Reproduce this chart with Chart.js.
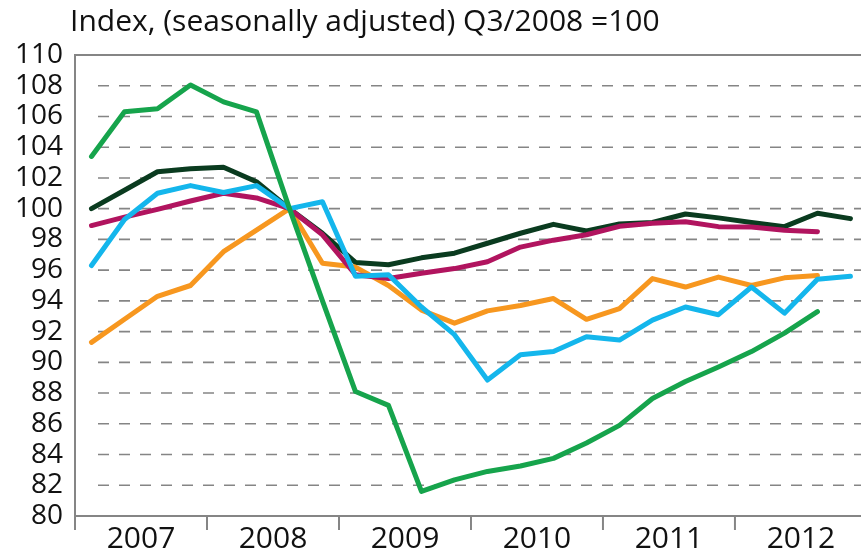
<!DOCTYPE html>
<html><head><meta charset="utf-8">
<script src="https://cdn.jsdelivr.net/npm/chart.js@4.4.1/dist/chart.umd.min.js"></script>
<style>html,body{margin:0;padding:0;background:#fff;overflow:hidden}#wrap{width:861px;height:555px;position:relative}</style>
</head><body><div id="wrap"><canvas id="c" width="861" height="555"></canvas></div>
<script>
const TITLE = 'Index, (seasonally adjusted) Q3/2008 =100';
const YEARS = ['2007', '2008', '2009', '2010', '2011', '2012'];
const QUARTERS = YEARS.flatMap(y => ['Q1', 'Q2', 'Q3', 'Q4'].map(q => y + q));
const Y_TICKS = [80, 82, 84, 86, 88, 90, 92, 94, 96, 98, 100, 102, 104, 106, 108, 110];

const darkGreen = [100.0, 101.2, 102.4, 102.6, 102.7, 101.75, 100.0, 98.4, 96.5, 96.35, 96.8, 97.1, 97.75, 98.4, 98.98, 98.55, 99.0, 99.1, 99.65, 99.4, 99.1, 98.83, 99.7, 99.35];
const magenta = [98.9, 99.45, 99.95, 100.5, 101.0, 100.7, 100.0, 98.3, 95.7, 95.45, 95.8, 96.1, 96.55, 97.5, 97.95, 98.3, 98.85, 99.05, 99.15, 98.83, 98.8, 98.6, 98.5, null];
const cyan = [96.3, 99.3, 101.0, 101.5, 101.05, 101.5, 100.0, 100.45, 95.6, 95.7, 93.6, 91.8, 88.85, 90.5, 90.7, 91.67, 91.45, 92.75, 93.6, 93.1, 94.9, 93.2, 95.4, 95.6];
const orange = [91.3, 92.8, 94.3, 95.0, 97.2, 98.6, 100.0, 96.45, 96.2, 95.0, 93.4, 92.55, 93.35, 93.7, 94.15, 92.8, 93.5, 95.45, 94.9, 95.55, 95.0, 95.5, 95.65, null];
const green = [103.4, 106.3, 106.5, 108.05, 106.95, 106.3, 100.0, 94.0, 88.1, 87.2, 81.6, 82.35, 82.9, 83.25, 83.75, 84.75, 85.9, 87.65, 88.75, 89.7, 90.7, 91.9, 93.3, null];

const yearCenters = YEARS.map(y => {
  const idx = QUARTERS.map((q, i) => q.startsWith(y) ? i : -1).filter(i => i >= 0);
  return (idx[0] + idx[idx.length - 1]) / 2;
});
const yearBounds = YEARS.map(y => QUARTERS.findIndex(q => q.startsWith(y)) - 0.5);

const pts = arr => arr.map((v, i) => ({x: i, y: v}));
const GRAY = '#858585';

const decor = {
  id: 'decor',
  beforeDatasetsDraw(chart) {
    const {ctx, chartArea: a, scales: {y}} = chart;
    ctx.save();
    ctx.strokeStyle = GRAY;
    ctx.lineWidth = 1.6;
    ctx.setLineDash([11, 10]);
    Y_TICKS.slice(1, -1).forEach(v => {
      const py = y.getPixelForValue(v);
      ctx.beginPath(); ctx.moveTo(a.left + 23, py); ctx.lineTo(a.right, py); ctx.stroke();
    });
    ctx.setLineDash([]);
    ctx.lineWidth = 2;
    const top = y.getPixelForValue(Y_TICKS[Y_TICKS.length - 1]);
    ctx.beginPath(); ctx.moveTo(a.left, top); ctx.lineTo(a.right, top); ctx.stroke();
    ctx.restore();
  },
  afterDraw(chart) {
    const {ctx, chartArea: a, scales: {x}} = chart;
    ctx.save();
    ctx.strokeStyle = GRAY;
    ctx.lineWidth = 2;
    yearBounds.forEach(b => {
      const px = x.getPixelForValue(b);
      ctx.beginPath(); ctx.moveTo(px, a.bottom); ctx.lineTo(px, a.bottom + 14); ctx.stroke();
    });
    ctx.fillStyle = '#111';
    ctx.font = '30px "Open Sans"';
    ctx.textBaseline = 'middle';
    ctx.textAlign = 'left';
    ctx.fillText(TITLE, a.left - 5, 22);
    ctx.restore();
  }
};

const ds = (label, data, color) => ({
  label, data: pts(data), borderColor: color, backgroundColor: color,
  borderWidth: 5, pointRadius: 0, tension: 0,
  borderJoinStyle: 'round', borderCapStyle: 'round', spanGaps: false
});

new Chart(document.getElementById('c'), {
  type: 'line',
  data: {
    datasets: [
      ds('Green', green, '#16a44c'),
      ds('Cyan', cyan, '#14b6ec'),
      ds('Magenta', magenta, '#b1145f'),
      ds('Orange', orange, '#f7971f'),
      ds('Dark green', darkGreen, '#0a3b1f')
    ]
  },
  options: {
    responsive: false,
    animation: false,
    devicePixelRatio: 1,
    layout: {padding: {top: 55, left: 0, right: 0, bottom: 0}},
    plugins: {legend: {display: false}, title: {display: false}, tooltip: {enabled: false}},
    scales: {
      x: {
        type: 'linear', min: -0.5, max: 23.32,
        grid: {display: false, drawTicks: false},
        border: {display: true, color: GRAY, width: 2},
        afterBuildTicks: s => { s.ticks = yearCenters.map(v => ({value: v})); },
        afterFit: s => { s.height = 39; },
        ticks: {
          autoSkip: false, maxRotation: 0, padding: 5, color: '#111',
          font: {family: 'Open Sans', size: 30},
          callback: v => YEARS[yearCenters.indexOf(v)]
        }
      },
      y: {
        min: 80, max: 110,
        grid: {display: false, drawTicks: false},
        border: {display: true, color: GRAY, width: 2},
        afterBuildTicks: s => { s.ticks = Y_TICKS.map(v => ({value: v})); },
        afterFit: s => { s.width = 75; },
        ticks: {
          autoSkip: false, padding: 12, color: '#111',
          font: {family: 'Open Sans', size: 28}
        }
      }
    }
  },
  plugins: [decor]
});
</script>
</body></html>
